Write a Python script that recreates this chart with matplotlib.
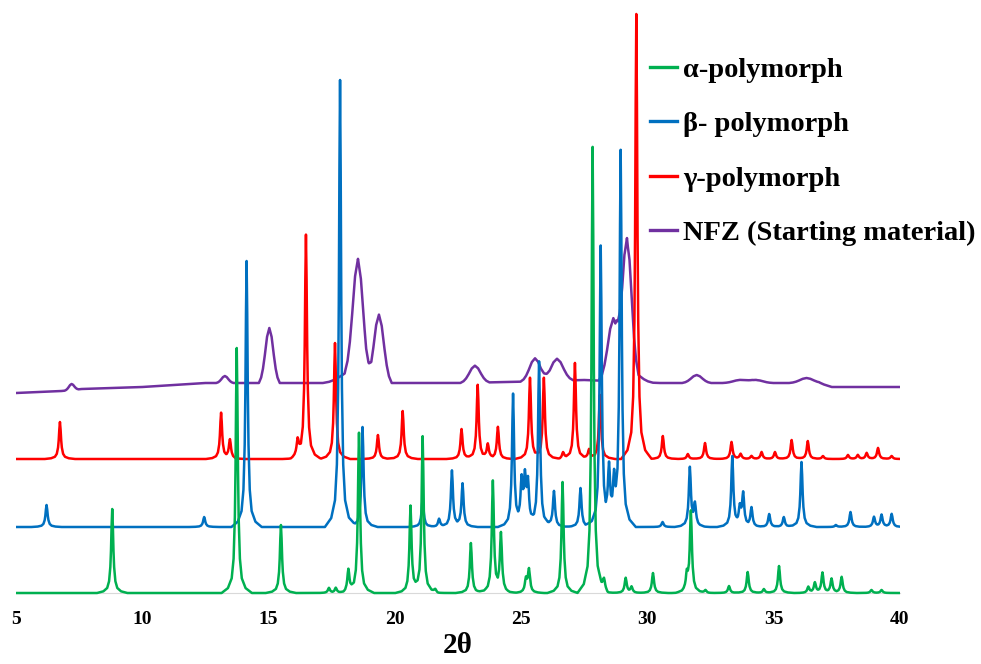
import numpy as np
import matplotlib.pyplot as plt
from matplotlib.lines import Line2D

# peak positions (2theta) and heights above each pattern's baseline
alpha_pos = [8.81, 13.74, 15.49, 17.39, 17.66, 18.16, 18.58, 20.62, 21.10, 21.60,
             23.01, 23.88, 24.20, 25.19, 25.31, 26.64, 27.83, 28.28, 29.14, 29.37,
             30.22, 31.56, 31.72, 32.30, 33.23, 33.97, 34.61, 35.21, 36.37, 36.63,
             36.93, 37.29, 37.69, 38.87, 39.27]
alpha_int = [84, 245, 68, 5, 5, 22, 160, 86, 156, 3,
             50, 111, 58, 13, 23, 111, 446, 10, 15, 6,
             20, 16, 81, 3, 7, 21, 4, 27, 6, 10,
             20, 14, 16, 3, 3]

beta_pos = [6.21, 12.45, 14.13, 17.83, 18.72, 21.10, 21.75, 22.26, 22.68, 24.68,
            25.02, 25.15, 25.27, 25.71, 26.30, 27.35, 28.15, 28.48, 28.68, 28.94,
            30.60, 31.68, 31.88, 33.36, 33.66, 33.79, 34.12, 34.82, 35.40, 36.10,
            37.46, 38.04, 38.97, 39.27, 39.67]
beta_int = [22, 10, 266, 447, 100, 28, 8, 56, 43, 132,
            42, 44, 40, 165, 36, 39, 280, 52, 37, 375,
            5, 59, 22, 70, 17, 32, 19, 13, 10, 65,
            2, 15, 10, 12, 13]

gamma_pos = [6.74, 13.12, 13.47, 16.15, 16.48, 17.63, 19.33, 20.31, 22.64, 23.28,
             23.68, 24.08, 25.35, 25.90, 26.66, 27.13, 27.69, 28.12, 29.56, 30.61,
             31.60, 32.28, 33.33, 33.69, 34.12, 34.52, 35.05, 35.71, 36.35, 36.95,
             37.94, 38.33, 38.68, 39.13, 39.67]
gamma_int = [37, 46, 19, 16, 224, 116, 24, 48, 30, 74,
             14, 32, 81, 81, 6, 96, 9, 64, 445, 23,
             5, 16, 17, 5, 3, 7, 7, 19, 18, 3,
             4, 4, 6, 11, 3]

nfz_pos = [7.20, 13.27, 15.03, 18.30, 18.54, 19.37, 23.17, 25.55, 26.42, 28.65,
           29.19, 29.30, 31.95, 33.66, 34.30, 36.30]
nfz_int = [6, 7, 55, 12, 114, 68, 17, 23, 22, 61,
           131, 12, 8, 3, 3, 5]
nfz_hw = [0.12, 0.15, 0.18, 0.50, 0.23, 0.22, 0.25, 0.25, 0.28, 0.25,
          0.20, 0.40, 0.25, 0.30, 0.30, 0.30]

# slowly varying background of the NFZ scan
nfz_bg_x = [5.0, 6.8, 7.6, 10.0, 12.5, 17.5, 22.5, 24.5, 27.5, 30.5, 36.8, 37.3, 40.0]
nfz_bg_y = [0, 2, 4, 6, 10, 10, 10, 11, 13, 10, 10, 6, 6]

LABELS = ['α-polymorph', 'β- polymorph', 'γ-polymorph', 'NFZ (Starting material)']
COLORS = ['#00B050', '#0070C0', '#FF0000', '#7030A0']
OFFSETS = [0, 66, 134, 200]

# peak outlines, in units of half width at half maximum
SHARP_HW = 0.05
SHARP_SHAPE = ([0, 0.5, 1, 1.5, 2.5, 4, 7, 12], [1, 0.8, 0.5, 0.31, 0.14, 0.06, 0.02, 0])
BROAD_SHAPE = ([0, 0.5, 1, 1.4, 1.8, 2.3], [1, 0.84, 0.5, 0.26, 0.1, 0])

SERIF = ['Liberation Serif', 'DejaVu Serif']


def peak_profile(x, pos, h, hw, shape):
    steps, fracs = shape
    xs = [-s for s in steps[::-1]] + steps[1:]
    ys = fracs[::-1] + fracs[1:]
    return h * np.interp((x - pos) / hw, xs, ys, left=0, right=0)


def build_pattern(positions, heights, widths, shape, bg_x, bg_y, offset):
    knots = {5.0, 40.0} | set(bg_x)
    for p, w in zip(positions, widths):
        for s in shape[0]:
            knots.update([p - s * w, p + s * w])
    x = np.array(sorted(k for k in knots if 5.0 <= k <= 40.0))
    y = np.interp(x, bg_x, bg_y) + offset
    for p, h, w in zip(positions, heights, widths):
        y += peak_profile(x, p, h, w, shape)
    return x, y


fig = plt.figure(figsize=(9.81, 6.64), dpi=100)
ax = fig.add_axes([16 / 981, 64 / 664, 884 / 981, 600 / 664])

patterns = [
    (alpha_pos, alpha_int, [SHARP_HW] * len(alpha_pos), SHARP_SHAPE, [5, 40], [0, 0]),
    (beta_pos, beta_int, [SHARP_HW] * len(beta_pos), SHARP_SHAPE, [5, 40], [0, 0]),
    (gamma_pos, gamma_int, [SHARP_HW] * len(gamma_pos), SHARP_SHAPE, [5, 40], [0, 0]),
    (nfz_pos, nfz_int, nfz_hw, BROAD_SHAPE, nfz_bg_x, nfz_bg_y),
]

# draw NFZ first so the polymorph patterns sit on top
for idx in [3, 2, 1, 0]:
    pos, ints, widths, shape, bx, by = patterns[idx]
    x, y = build_pattern(pos, ints, widths, shape, bx, by, OFFSETS[idx])
    ax.plot(x, y, color=COLORS[idx], lw=1.8, solid_joinstyle='round')

ax.set_xlim(5, 40)
ax.set_ylim(-7, 593)
ax.set_xticks(range(5, 41, 5))
ax.set_yticks([])
for side in ['left', 'right', 'top']:
    ax.spines[side].set_visible(False)
ax.spines['bottom'].set_position(('data', 0))
ax.spines['bottom'].set_color('#d9d9d9')
ax.spines['bottom'].set_linewidth(0.8)
ax.spines['bottom'].set_zorder(0)
ax.tick_params(axis='x', length=0, pad=13)
for lab in ax.get_xticklabels():
    lab.set_fontfamily(SERIF)
    lab.set_fontweight('bold')
    lab.set_fontsize(14)

ax.set_xlabel('2θ', fontfamily=SERIF, fontweight='bold', fontsize=21, labelpad=3)

handles = [Line2D([], [], color=c, lw=2.4) for c in COLORS]
ax.legend(handles, LABELS, loc='upper left', bbox_to_anchor=(650 / 981, 1 - 57 / 664),
          bbox_transform=fig.transFigure, frameon=False, borderpad=0, borderaxespad=0,
          handlelength=0.95, handletextpad=0.21, labelspacing=1.0,
          prop={'family': SERIF, 'weight': 'bold', 'size': 20.5})

fig.savefig('out.png', dpi=100)
